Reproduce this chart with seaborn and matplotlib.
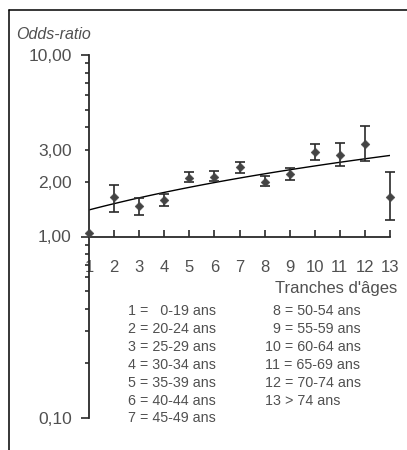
import numpy as np
import pandas as pd
import matplotlib
matplotlib.use("Agg")
import matplotlib.pyplot as plt
from matplotlib.lines import Line2D
import seaborn as sns

# ---- data ----
age_class = [1, 2, 3, 4, 5, 6, 7, 8, 9, 10, 11, 12, 13]
odds_ratio = [1.05, 1.65, 1.48, 1.58, 2.10, 2.14, 2.40, 2.00, 2.22, 2.93, 2.83, 3.24, 1.66]
ci_low = [np.nan, 1.37, 1.31, 1.47, 2.00, 2.01, 2.25, 1.89, 2.06, 2.65, 2.46, 2.60, 1.23]
ci_high = [np.nan, 1.93, 1.62, 1.72, 2.27, 2.29, 2.56, 2.15, 2.39, 3.24, 3.26, 4.05, 2.28]

y_major = [0.1, 1, 10]
y_major_labels = ["0,10", "1,00", "10,00"]
y_labelled_minor = {2: "2,00", 3: "3,00"}
x_labels = [str(v) for v in age_class]

legend_left = ["1 =   0-19 ans", "2 = 20-24 ans", "3 = 25-29 ans", "4 = 30-34 ans",
               "5 = 35-39 ans", "6 = 40-44 ans", "7 = 45-49 ans"]
legend_right = ["  8 = 50-54 ans", "  9 = 55-59 ans", "10 = 60-64 ans", "11 = 65-69 ans",
                "12 = 70-74 ans", "13 > 74 ans"]

df = pd.DataFrame({"age": age_class, "or": odds_ratio, "lo": ci_low, "hi": ci_high})

# ---- style ----
sns.set_style("white")
plt.rcParams["font.family"] = ["Liberation Sans", "DejaVu Sans"]
txt = "#505050"
axc = "#2a2a2a"

fig = plt.figure(figsize=(4.07, 4.5), dpi=100)
ax = fig.add_axes([89 / 407, 1 - 418 / 450, 301 / 407, (418 - 55) / 450])

ax.set_yscale("log")
ax.set_ylim(0.1, 10)
ax.set_xlim(1, 13)

# error bars
ax.errorbar(df["age"], df["or"], yerr=[df["or"] - df["lo"], df["hi"] - df["or"]],
            fmt="none", ecolor="#2a2a2a", elinewidth=1.2, capsize=3.5, capthick=1.2,
            clip_on=False, zorder=3)
# trend line (linear fit)
sns.regplot(data=df, x="age", y="or", scatter=False, ci=None, ax=ax,
            line_kws=dict(color="black", lw=1.0, zorder=2), truncate=True)
# points
sns.scatterplot(data=df, x="age", y="or", marker="D", s=20, color="#444444",
                edgecolor="#444444", ax=ax, zorder=4, clip_on=False)

ax.set_xlabel("")
ax.set_ylabel("")

# spines
for s in ["top", "right"]:
    ax.spines[s].set_visible(False)
ax.spines["left"].set_color(axc)
ax.spines["left"].set_linewidth(1.3)
ax.spines["bottom"].set_position(("data", 1))
ax.spines["bottom"].set_color(axc)
ax.spines["bottom"].set_linewidth(1.3)

# x ticks
ax.set_xticks(age_class, labels=x_labels)
ax.tick_params(axis="x", direction="in", length=5, width=1.2, color=axc,
               labelsize=12, labelcolor=txt, pad=17, bottom=True)

# y ticks
ax.set_yticks(y_major, labels=y_major_labels)
minor_pos = [m * d for d in (0.1, 1) for m in range(2, 10)]
minor_lab = [y_labelled_minor.get(int(round(p)), "") if p >= 1 else "" for p in minor_pos]
ax.set_yticks(minor_pos, labels=minor_lab, minor=True)
ax.tick_params(axis="y", which="major", direction="out", length=5.5, width=1.2,
               color=axc, labelsize=12.5, labelcolor=txt, pad=7, left=True)
ax.tick_params(axis="y", which="minor", direction="out", length=3.2, width=1.2,
               color=axc, labelsize=12.5, labelcolor=txt, pad=9, left=True)

# texts
fig.text(16 / 407, 1 - 34.5 / 450, "Odds-ratio", fontsize=11.5, style="italic",
         color=txt, ha="left", va="center")
fig.text(397 / 407, 1 - 288 / 450, "Tranches d'âges", fontsize=12, color=txt,
         ha="right", va="center")
for i, s in enumerate(legend_left):
    fig.text(127.5 / 407, 1 - (311.3 + i * 17.85) / 450, s, fontsize=10.3, color=txt,
             ha="left", va="center")
for i, s in enumerate(legend_right):
    fig.text(265 / 407, 1 - (311.3 + i * 17.85) / 450, s, fontsize=10.3, color=txt,
             ha="left", va="center")

# outer frame (left and top edges)
fig.add_artist(Line2D([9.3 / 407, 9.3 / 407], [0, 1 - 10 / 450], color="black", lw=1.1,
                      transform=fig.transFigure))
fig.add_artist(Line2D([9.3 / 407, 1], [1 - 10 / 450, 1 - 10 / 450], color="black", lw=1.1,
                      transform=fig.transFigure))

fig.savefig("out.png", dpi=100)
